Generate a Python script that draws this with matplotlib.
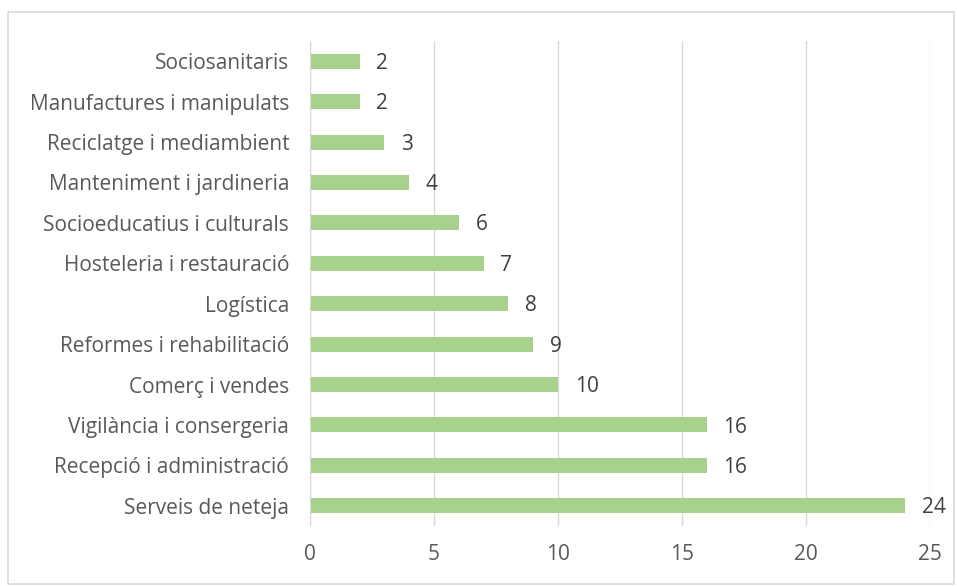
import matplotlib.pyplot as plt
from matplotlib.patches import Rectangle

plt.rcParams['font.family'] = ['Open Sans', 'DejaVu Sans']

# Categories from top to bottom
categories = ['Sociosanitaris', 'Manufactures i manipulats', 'Reciclatge i mediambient',
              'Manteniment i jardineria', 'Socioeducatius i culturals',
              'Hosteleria i restauració', 'Logística', 'Reformes i rehabilitació',
              'Comerç i vendes', 'Vigilància i consergeria', 'Recepció i administració',
              'Serveis de neteja']
values = [2, 2, 3, 4, 6, 7, 8, 9, 10, 16, 16, 24]
x_ticks = [0, 5, 10, 15, 20, 25]

text_color = '#595959'
bar_color = '#A9D18E'

fig = plt.figure(figsize=(9.57, 5.86), dpi=100)
ax = fig.add_axes([0.3239, 0.1024, 0.6480, 0.8276])

y = list(range(len(categories)))
ax.barh(y, values, height=0.37, color=bar_color)
ax.set_ylim(len(categories) - 0.5, -0.5)
ax.set_xlim(0, 25)
ax.set_yticks(y)
ax.set_yticklabels(categories, fontsize=15, color=text_color)
ax.set_xticks(x_ticks)
ax.set_xticklabels([str(t) for t in x_ticks], fontsize=15, color=text_color)
ax.tick_params(length=0)
ax.tick_params(axis='y', pad=15)
ax.tick_params(axis='x', pad=13)

# value labels to the right of each bar
for yi, v in zip(y, values):
    ax.annotate(str(v), (v, yi), xytext=(12, -1.5), textcoords='offset points',
                va='center', ha='left', fontsize=15, color='#404040')

ax.grid(axis='x', color='#D9D9D9', linewidth=1)
ax.set_axisbelow(True)
for s in ['top', 'right', 'bottom']:
    ax.spines[s].set_visible(False)
ax.spines['left'].set_color('#D9D9D9')

# light frame around the chart area
fig.patches.append(Rectangle((8 / 957, 0.003), 946 / 957, 1 - 12 / 586 - 0.003,
                             transform=fig.transFigure, fill=False,
                             edgecolor='#D9D9D9', linewidth=1.2))

fig.savefig('out.png', dpi=100)
